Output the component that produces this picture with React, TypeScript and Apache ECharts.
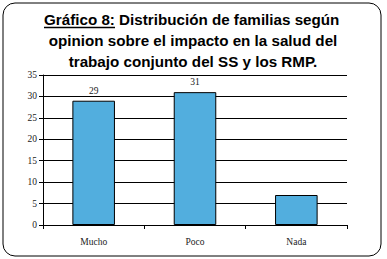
import React, { useEffect, useRef } from "react";
import * as echarts from "echarts";

const categories = ["Mucho", "Poco", "Nada"];
const values = [29, 31, 7];
const showValueLabel = [true, true, false];
const titleLine1Underlined = "Gráfico 8:";
const titleLine1Rest = " Distribución de familias según";
const titleLine2 = "opinion sobre el impacto en la salud del";
const titleLine3 = "trabajo conjunto del SS y los RMP.";

export default function App() {
  const ref = useRef<HTMLDivElement>(null);
  useEffect(() => {
    if (!ref.current) return;
    const chart = echarts.init(ref.current, undefined, { renderer: "svg" });
    const serif = "'Liberation Serif', 'DejaVu Serif', serif";
    const sans = "'Liberation Sans', Arial, sans-serif";
    chart.setOption({
      animation: false,
      backgroundColor: "#ffffff",
      grid: { left: 43, right: 40, top: 75, bottom: 34, containLabel: false },
      xAxis: {
        type: "category",
        data: categories,
        axisLine: { show: true, lineStyle: { color: "#000", width: 1 } },
        axisTick: { show: true, alignWithLabel: false, length: 4, lineStyle: { color: "#000" } },
        axisLabel: { fontFamily: serif, fontSize: 9.5, color: "#222", margin: 12 },
        splitLine: { show: false },
      },
      yAxis: {
        type: "value",
        min: 0,
        max: 35,
        interval: 5,
        axisLine: { show: true, lineStyle: { color: "#000", width: 1 } },
        axisTick: { show: true, length: 4, lineStyle: { color: "#000" } },
        axisLabel: { fontFamily: serif, fontSize: 9.5, color: "#222", margin: 6 },
        splitLine: { show: true, lineStyle: { color: "#000", width: 1 } },
      },
      series: [
        {
          type: "bar",
          barWidth: "42%",
          data: values.map((v, i) => ({
            value: v,
            label: { show: showValueLabel[i] },
          })),
          itemStyle: { color: "#52AEDE", borderColor: "#000", borderWidth: 1 },
          label: {
            position: "top",
            distance: 5,
            fontFamily: serif,
            fontSize: 9.5,
            color: "#222",
          },
        },
      ],
      graphic: [
        {
          type: "rect",
          shape: { x: 3, y: 3, width: 378, height: 253, r: 12 },
          style: { fill: "none", stroke: "#000", lineWidth: 1 },
          z: -1,
        },
        {
          type: "text",
          x: 44,
          y: 19,
          style: {
            text: "{a|" + titleLine1Underlined + "}{a|" + titleLine1Rest + "}",
            rich: {
              a: { fontFamily: sans, fontSize: 15.2, fontWeight: "bold", fill: "#000" },
            },
            verticalAlign: "middle",
            align: "left",
          },
        },
        {
          type: "line",
          shape: { x1: 44, y1: 27.5, x2: 115, y2: 27.5 },
          style: { stroke: "#000", lineWidth: 1.5 },
        },
        {
          type: "text",
          x: 193,
          y: 40,
          style: {
            text: titleLine2,
            fontFamily: sans,
            fontSize: 15.2,
            fontWeight: "bold",
            fill: "#000",
            align: "center",
            verticalAlign: "middle",
          },
        },
        {
          type: "text",
          x: 193,
          y: 61,
          style: {
            text: titleLine3,
            fontFamily: sans,
            fontSize: 15.2,
            fontWeight: "bold",
            fill: "#000",
            align: "center",
            verticalAlign: "middle",
          },
        },
      ],
    });
    return () => chart.dispose();
  }, []);
  return (
    <div style={{ position: "absolute", left: 0, top: 0, width: 387, height: 259 }}>
      <div ref={ref} style={{ width: 387, height: 259 }} />
    </div>
  );
}
